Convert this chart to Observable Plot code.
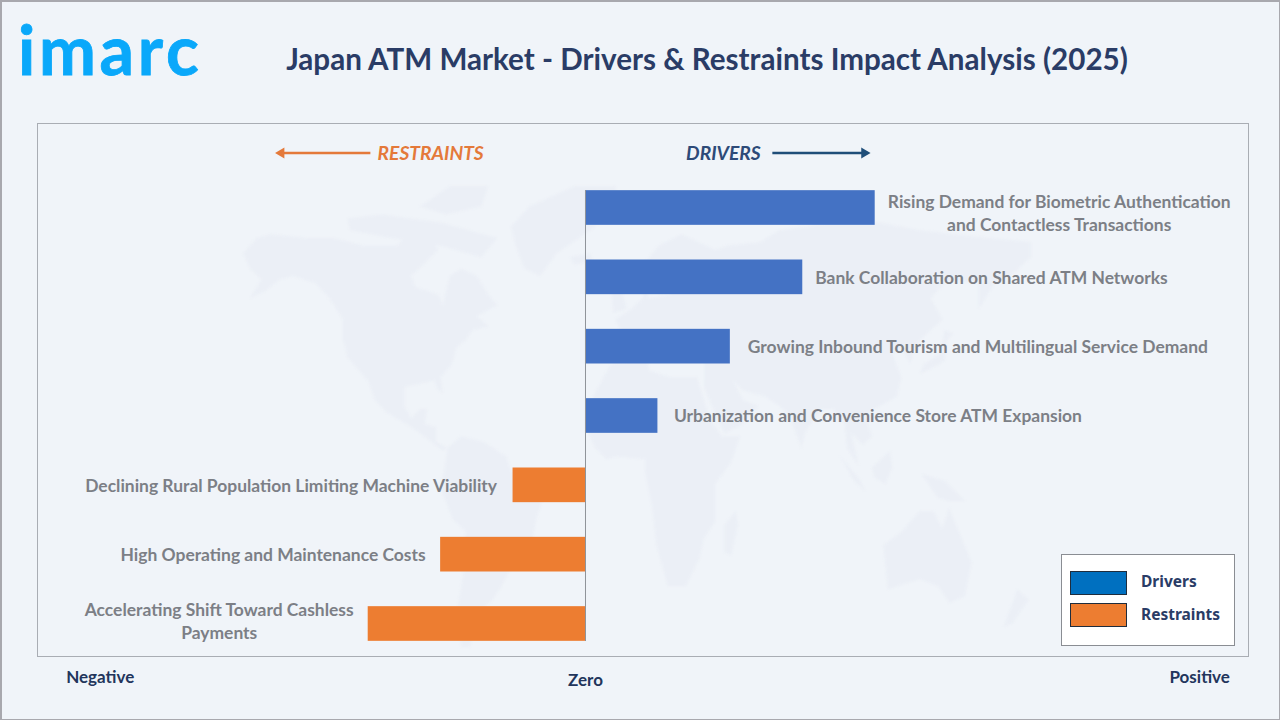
<!DOCTYPE html>
<html>
<head>
<meta charset="utf-8">
<script src="https://cdn.jsdelivr.net/npm/d3@7"></script>
<script src="https://cdn.jsdelivr.net/npm/@observablehq/plot@0.6"></script>
<style>
html,body{margin:0;padding:0;background:#f0f4f9;}
#page{position:relative;width:1280px;height:720px;overflow:hidden;background:#f0f4f9;font-family:Lato,sans-serif;}
#page svg{position:absolute;left:0;top:0;background:transparent;}
#page svg.map{filter:blur(0.8px);}
#border{position:absolute;left:0;top:0;width:1280px;height:720px;box-sizing:border-box;border:solid #a8a8ae;border-width:2px 1px 1px 2px;}
#frame{position:absolute;left:37px;top:123px;width:1212px;height:534px;box-sizing:border-box;border:1px solid #a9adb4;}
#logo{position:absolute;left:18px;top:7px;font:700 68px/84px Lato,sans-serif;color:#0aa8fa;letter-spacing:3.7px;-webkit-text-stroke:0.8px #0aa8fa;}
#title{position:absolute;left:0;width:1414px;top:40px;text-align:center;font:700 29.6px/38px Lato,sans-serif;color:#2a3c66;white-space:nowrap;}
#legend{position:absolute;left:1061px;top:554px;width:174px;height:92px;box-sizing:border-box;background:#fff;border:1px solid #8a8d93;}
.sw{position:absolute;left:8px;width:57px;height:24px;box-sizing:border-box;border:1px solid #1f2d3d;}
.lb{position:absolute;left:79px;font:700 15.5px/20px "Noto Sans",sans-serif;color:#2a3c66;}
</style>
</head>
<body>
<div id="page">
  <div id="chart"></div>
  <div id="frame"></div>
  <div id="border"></div>
  <div id="logo">imarc</div>
  <div id="title">Japan ATM Market - Drivers &amp; Restraints Impact Analysis (2025)</div>
  <div id="legend"></div>
</div>
<script>
// ---------- chart data ----------
const categories = [
  "Rising Demand for Biometric Authentication\nand Contactless Transactions",
  "Bank Collaboration on Shared ATM Networks",
  "Growing Inbound Tourism and Multilingual Service Demand",
  "Urbanization and Convenience Store ATM Expansion",
  "Declining Rural Population Limiting Machine Viability",
  "High Operating and Maintenance Costs",
  "Accelerating Shift Toward Cashless\nPayments"
];
const impacts = [4, 3, 2, 1, -1, -2, -3];
const kinds = ["Drivers","Drivers","Drivers","Drivers","Restraints","Restraints","Restraints"];
const labelOffsets = [184, 12.5, 17.5, 16, -16, -15, -149];
const labelNudges = [4, -1, -1, -1, -1, -1, -4];
const legendKinds = ["Drivers", "Restraints"];
const legendColors = ["#0070c0", "#ed7d31"];
const barColors = ["#4472c4", "#ed7d31"];
const axisNames = ["Negative", "Zero", "Positive"];
const axisPositions = [-6.7, 0, 8.48];

// ---------- watermark map: rough continents, [lon, lat] ----------
const northAmerica = [[-168,66],[-162,70],[-156,71],[-140,70],[-128,70],[-115,68],[-100,68],[-95,72],[-85,70],[-82,67],[-87,64],[-94,60],[-92,57],[-82,55],[-80,52],[-79,55],[-77,60],[-72,62],[-65,60],[-60,55],[-56,52],[-65,49],[-60,46],[-67,45],[-70,42],[-74,40],[-76,35],[-81,31],[-80,26],[-82,27],[-84,30],[-90,29],[-97,28],[-97,22],[-94,18],[-90,21],[-87,21],[-88,16],[-83,15],[-83,10],[-78,8],[-80,7],[-85,10],[-92,14],[-96,16],[-105,20],[-110,24],[-113,30],[-117,33],[-122,37],[-124,42],[-124,48],[-130,54],[-136,58],[-146,60],[-152,59],[-158,56],[-165,54],[-160,59],[-165,62]];
const greenland = [[-50,73],[-42,78],[-22,83],[-4,83],[-2,78],[-15,72],[-30,66],[-37,60],[-44,62],[-48,68]];
const arcticNorth = [[-90,78],[-77,83],[-60,83],[-63,78],[-79,76]];
const arcticSouth = [[-122,75],[-107,76],[-81,74],[-56,70],[-63,65],[-81,68],[-103,70],[-121,72]];
const southAmerica = [[-78,8],[-72,12],[-62,10],[-52,5],[-50,0],[-35,-6],[-39,-15],[-41,-22],[-48,-26],[-54,-34],[-58,-38],[-65,-42],[-68,-52],[-72,-52],[-74,-42],[-71,-30],[-70,-18],[-76,-14],[-81,-5],[-79,2]];
const africa = [[-17,15],[-16,22],[-10,30],[-6,35],[10,37],[11,33],[20,31],[32,31],[35,24],[38,17],[43,12],[51,12],[47,3],[40,-4],[40,-15],[35,-20],[33,-26],[27,-34],[19,-34],[14,-22],[12,-10],[9,0],[9,4],[-4,5],[-8,4],[-13,8]];
const eurasia = [[-9,37],[-9,43],[-1,44],[-4,48],[3,51],[8,54],[9,57],[11,54],[20,55],[24,59],[22,63],[18,60],[15,56],[11,59],[5,59],[8,63],[15,68],[25,71],[40,67],[45,68],[60,69],[68,72],[80,73],[100,75],[112,74],[130,72],[160,70],[179,69],[179,65],[170,60],[163,58],[156,51],[156,58],[142,59],[135,54],[140,48],[130,42],[127,39],[126,35],[122,40],[118,38],[122,31],[120,25],[110,21],[106,19],[109,12],[105,9],[100,13],[103,2],[98,8],[97,16],[92,21],[87,21],[80,14],[78,8],[73,18],[70,21],[62,25],[57,26],[52,27],[48,30],[52,24],[59,22],[52,16],[44,13],[39,21],[35,28],[35,36],[28,36],[26,40],[23,37],[19,42],[14,45],[18,40],[15,38],[10,44],[3,43],[-1,37],[-5,36]];
const australia = [[114,-22],[122,-18],[130,-12],[136,-12],[140,-17],[143,-11],[153,-27],[150,-37],[143,-39],[138,-34],[130,-32],[116,-35]];
const britain = [[-5,50],[1,51],[-2,58],[-6,57]];
const iceland = [[-24,65],[-15,66],[-14,64],[-22,63]];
const madagascar = [[44,-16],[49,-12],[50,-16],[47,-25],[44,-24]];
const japan = [[130,32],[136,34],[141,36],[142,42],[145,44],[141,45],[139,38],[132,35]];
const sumatra = [[95,5],[104,-3],[106,-6],[101,-3]];
const borneo = [[109,1],[117,7],[118,1],[115,-4],[110,-2]];
const newGuinea = [[131,-1],[141,-3],[150,-9],[143,-9],[138,-8]];
const newZealand = [[173,-35],[178,-38],[171,-45],[167,-46]];
const landmasses = [northAmerica,greenland,arcticNorth,arcticSouth,southAmerica,africa,eurasia,australia,britain,iceland,madagascar,japan,sumatra,borneo,newGuinea,newZealand];

const toPolygon = (ring) => ({type:"Polygon", coordinates:[[...ring, ring[0]]]});

// The watermark's own plane projection, fitted to the picture.
const mapProjection = () => d3.geoTransform({
  point(lon, lat) {
    const drop = lat >= 0 ? 2.76 * lat + 0.008 * lat * lat : 3.4 * lat;
    this.stream.point(624 + 2.27 * lon, 470 - drop);
  }
});

const rows = categories.map((label, i) => ({label, value: impacts[i], kind: kinds[i], dx: labelOffsets[i], dy: labelNudges[i]}));
const W = 1280, H = 720;
const labelStyle = {fontFamily:"Lato,sans-serif", fontWeight:700, fontSize:17.45, fill:"#7c7f86", lineHeight:1.32};
const labelMark = (r) => Plot.text([r], {
  x:"value", y:"label", text:"label", dx:r.dx, dy:r.dy,
  textAnchor: r.label.includes("\n") ? "middle" : (r.value > 0 ? "start" : "end"),
  ...labelStyle
});

const mapPlot = Plot.plot({
  width:W, height:H, margin:0,
  projection: mapProjection,
  marks:[ Plot.geo(landmasses.map(toPolygon), {fill:"#ebeff6", stroke:"none"}) ]
});
mapPlot.classList.add("map");

const arrows = [
  {x1:-2.97, x2:-4.2, color:"#e4793a", rot:-90},
  {x1: 2.58, x2: 3.85, color:"#1f4e79", rot:90}
];
const headerLeft = [{x:-2.87, text:"RESTRAINTS", color:"#e4793a"}];
const headerRight = [{x: 2.42, text:"DRIVERS", color:"#2d4a78"}];
const firstCategory = categories[0];
const axisRows = axisNames.map((name,i)=>({name, x:axisPositions[i]}));
const headerStyle = {x:"x", y:()=>firstCategory, text:"text", fill:"color", dy:-54,
  fontFamily:"Lato,sans-serif", fontWeight:700, fontStyle:"italic", fontSize:19.2};
const axisStyle = {x:"x", text:"name", frameAnchor:"bottom", fill:"#22355c",
  fontFamily:"Lato,sans-serif", fontWeight:700, fontSize:17};

const barPlot = Plot.plot({
  width:W, height:H,
  marginTop:190, marginBottom:79, marginLeft:0, marginRight:0,
  x:{domain:[-3,4], range:[367.7,874.7], axis:null},
  y:{type:"band", domain:categories, range:[155.5,675.5], padding:0.5, round:false, axis:null},
  color:{domain:legendKinds, range:barColors},
  marks:[
    Plot.barX(rows, {x1:0, x2:"value", y:"label", fill:"kind"}),
    Plot.ruleX([0], {stroke:"#8f9399", strokeWidth:1}),
    ...rows.map(labelMark),
    Plot.text(headerLeft, {...headerStyle, textAnchor:"start"}),
    Plot.text(headerRight, {...headerStyle, textAnchor:"end"}),
    Plot.link(arrows, {x1:"x1", x2:"x2", y1:()=>firstCategory, y2:()=>firstCategory, stroke:"color", strokeWidth:2.4, dy:-55}),
    Plot.dot(arrows, {x:"x2", y:()=>firstCategory, fill:"color", stroke:"none", symbol:"triangle", r:4, rotate:"rot", dy:-55}),
    Plot.text(axisRows.filter(d=>d.x===0), {...axisStyle, dy:44}),
    Plot.text(axisRows.filter(d=>d.x!==0), {...axisStyle, dy:41})
  ]
});

document.getElementById("chart").append(mapPlot, barPlot);

const legend = document.getElementById("legend");
legendKinds.forEach((k,i)=>{
  const s = document.createElement("div"); s.className="sw";
  s.style.top = (16 + i*32) + "px"; s.style.background = legendColors[i];
  const t = document.createElement("div"); t.className="lb"; t.textContent=k;
  t.style.top = (16 + i*33) + "px";
  legend.append(s,t);
});
</script>
</body>
</html>
